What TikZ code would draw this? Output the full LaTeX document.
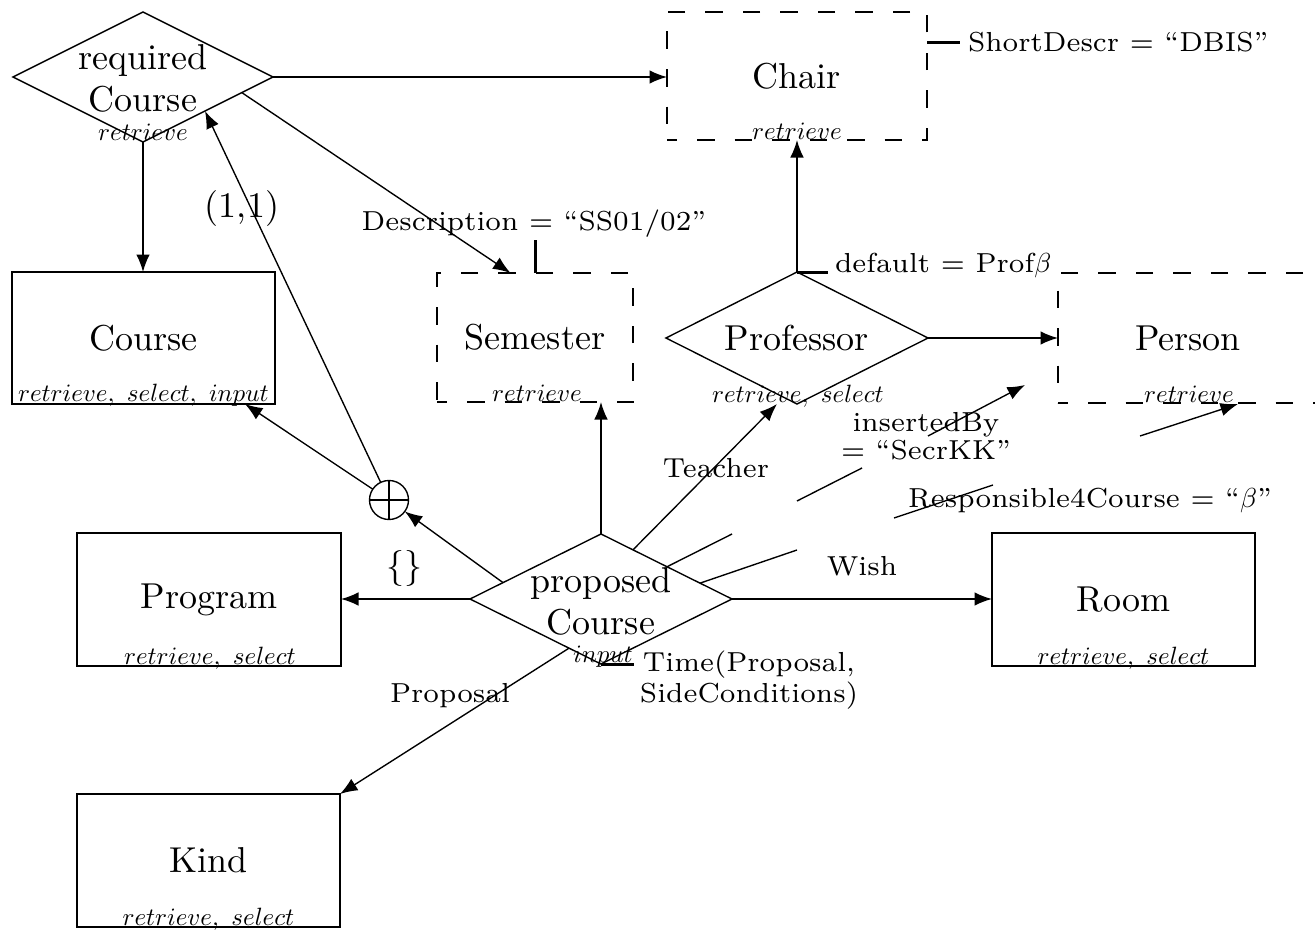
\documentclass[tikz,border=0pt]{standalone}
\usepackage{fix-cm}
\usetikzlibrary{arrows.meta,shapes.geometric,calc}
\font\mainrm="[lmroman10-regular]:+tlig;" at 14.4pt
\font\labrm="[lmroman7-regular]:+tlig;" at 11pt
\newcommand{\mf}{\mainrm\baselineskip=16.8pt}
\newcommand{\lf}{\fontsize{11}{13}\selectfont\labrm}
\begin{document}
\begin{tikzpicture}[x=0.4pt,y=-0.4pt,
  every node/.style={inner sep=0pt, outer sep=0pt},
  conn/.style={line width=0.55pt},
  arr/.style={conn,-{Latex[length=7pt,width=5.4pt]}},
  tick/.style={line width=1.2pt},
  ebox/.style={draw, rectangle, line width=0.8pt, font=\mainrm},
  dbox/.style={draw, rectangle, line width=0.8pt, dash pattern=on 7pt off 8pt, dash phase=3pt, font=\mainrm},
  rel/.style={draw, diamond, line width=0.55pt},
  reltext/.style={align=center, font=\mf},
  ops/.style={anchor=base},
  lab/.style={font=\lf},
  big/.style={font=\mainrm}
]
\useasboundingbox (0,0) rectangle (1315,933);
\clip (0,0) rectangle (1315,933);

% entities
\node[ebox, minimum width=105.2pt, minimum height=52.8pt] (course) at (143.5,338) {Course};
\node[dbox, minimum width=104pt, minimum height=51.2pt] (chair) at (797,76) {Chair};
\node[dbox, minimum width=78.4pt, minimum height=51.6pt] (semester) at (535,337.5) {Semester};
\node[dbox, minimum width=104pt, minimum height=52pt] (person) at (1188,338) {Person};
\node[ebox, minimum width=105.6pt, minimum height=53.2pt] (program) at (209,599.5) {Program};
\node[ebox, minimum width=105.2pt, minimum height=53.2pt] (room) at (1123.5,599.5) {Room};
\node[ebox, minimum width=105.2pt, minimum height=53.2pt] (kind) at (208.5,860.5) {Kind};

% relationships
\node[rel, minimum width=104pt, minimum height=52pt] (rc) at (143,77) {};
\node[reltext] (rctext) at (143,78) {required\\Course};
\node[rel, minimum width=104.8pt, minimum height=52.8pt] (prof) at (797,338) {};
\node[big] (proftext) at (797,338) {Professor};
\node[rel, minimum width=104.8pt, minimum height=52pt] (pc) at (601,599) {};
\node[reltext] (pctext) at (601,601) {proposed\\Course};

\node[draw, circle, minimum size=15.6pt, line width=0.55pt] (oplus) at (389,500) {};
\draw[line width=0.55pt] (oplus.north) -- (oplus.south) (oplus.west) -- (oplus.east);

% operation labels
\node[ops] (rcops) at (143,140.5) {$retrieve$};
\node[ops] (chairops) at (797,139.5) {$retrieve$};
\node[ops] (semops) at (537,401.5) {$retrieve$};
\node[ops] (personops) at (1189,402) {$retrieve$};
\node[ops] (profops) at (798,402.5) {$retrieve,\ select$};
\node[ops] (courseops) at (143.5,401.5) {$retrieve,\ select,\ input$};
\node[ops] (programops) at (210,664) {$retrieve,\ select$};
\node[ops] (roomops) at (1123.5,664) {$retrieve,\ select$};
\node[ops] (kindops) at (208.5,925.5) {$retrieve,\ select$};
\node[ops] (pcops) at (603,662.5) {$input$};

% attribute labels
\node[lab, anchor=base west] (shortdescr) at (968,52) {ShortDescr = “DBIS”};
\node[lab, anchor=base] (descr) at (534,230) {Description = “SS01/02”};
\node[lab, anchor=base west] (default) at (835,272) {default = Prof$\beta$};
\node[lab, align=center, font={\lf\baselineskip=11pt}] (inserted) at (926,436) {insertedBy\\= “SecrKK”};
\node[lab, anchor=base] (resp) at (1090,507) {Responsible4Course = “$\beta$”};
\node[lab, align=center, font={\lf\baselineskip=12.4pt}] (time) at (749,680) {Time(Proposal,\\SideConditions)};
\node[lab, anchor=base] (teacher) at (716,477) {Teacher};
\node[lab, anchor=base] (wish) at (862,575) {Wish};
\node[lab, anchor=base] (proposal) at (450,702) {Proposal};
\node[big, anchor=base] (card) at (242,217) {(1,1)};
\node[font={\fontsize{14.4}{17}\selectfont}] (set) at (404,568) {$\{\}$};

% connectors from required Course
\draw[arr] (rc.east) -- (rc.east -| chair.west);
\draw[arr] (rc.south) -- (rc.south |- course.north);
\coordinate (rcA) at ($(rc.east)!0.24!(rc.south)$);
\coordinate (semA) at ($(semester.north west)!0.375!(semester.north east)$);
\draw[arr] (rcA) -- (semA);

% attribute ticks
\draw[tick] (semester.north) -- ++(0,-33);
\draw[tick] ($(chair.north east)!0.242!(chair.south east)$) -- ++(33,0);
\draw[tick] (prof.north) -- ++(31,0);
\draw[tick] (pc.south) -- ++(33,0);

% Professor
\draw[arr] (prof.north) -- (prof.north |- chair.south);
\draw[arr] (prof.east) -- (prof.east -| person.west);

% proposed Course
\draw[arr] (pc.north) -- (pc.north |- semester.south);
\draw[arr] (pc.west) -- (pc.west -| program.east);
\draw[arr] (pc.east) -- (pc.east -| room.west);
\coordinate (pcF) at ($(pc.west)!0.756!(pc.south)$);
\draw[arr] (pcF) -- (kind.north east);
\coordinate (pcE) at ($(pc.west)!0.252!(pc.north)$);
\draw[arr] (pcE) -- (oplus);
\coordinate (courseB) at ($(course.south west)!0.886!(course.south east)$);
\draw[arr] (oplus) -- (courseB);
\coordinate (rcB) at ($(rc.south)!0.477!(rc.east)$);
\draw[arr] (oplus) -- (rcB);

\coordinate (pcB) at ($(pc.north)!0.244!(pc.east)$);
\coordinate (profTip) at (777,404);
\draw[arr] (pcB) -- (profTip);

% loose segments
\coordinate (pcC) at ($(pc.north)!0.504!(pc.east)$);
\coordinate (s1) at (732,534);
\draw[conn] (pcC) -- (s1);
\coordinate (pcD) at ($(pc.north)!0.756!(pc.east)$);
\coordinate (s2) at (797,550);
\draw[conn] (pcD) -- (s2);
\coordinate (s3a) at (797,501);
\coordinate (s3b) at (862,468);
\draw[conn] (s3a) -- (s3b);
\coordinate (s4a) at (894,518);
\coordinate (s4b) at (993,485);
\draw[conn] (s4a) -- (s4b);
\coordinate (a1a) at (928,436);
\coordinate (a1b) at (1025,385);
\draw[arr] (a1a) -- (a1b);
\coordinate (a2a) at (1140,436);
\coordinate (a2b) at (1238,404);
\draw[arr] (a2a) -- (a2b);
\end{tikzpicture}
\end{document}
